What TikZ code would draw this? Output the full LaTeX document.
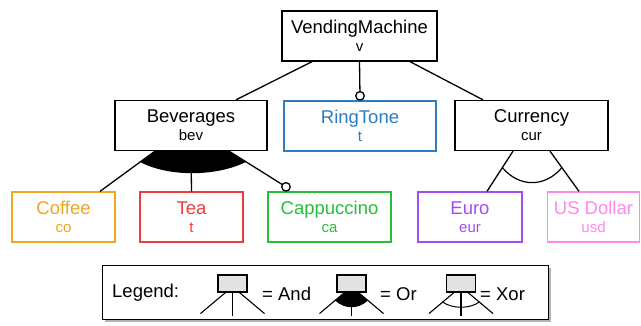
\documentclass[tikz,border=0pt]{standalone}
\usepackage{fontspec}
\setmainfont{Liberation Sans}
\usetikzlibrary{calc,shadows}

\definecolor{coffeecol}{RGB}{240,166,30}
\definecolor{teacol}{RGB}{238,60,60}
\definecolor{cappcol}{RGB}{40,190,60}
\definecolor{ringcol}{RGB}{45,125,190}
\definecolor{eurocol}{RGB}{165,75,245}
\definecolor{usdcol}{RGB}{255,136,238}
\definecolor{legfill}{RGB}{226,226,226}

\newcommand{\feat}[2]{#1\\[-1pt]{\fontsize{15}{15}\selectfont #2}}

\tikzset{
  feature/.style={draw, fill=white, line width=1.3pt, minimum height=50pt,
    inner sep=0pt, align=center, font=\fontsize{18.5}{19}\selectfont},
  opt/.style={circle, draw, fill=white, line width=1.3pt, inner sep=0pt, minimum size=8.5pt},
  edge/.style={line width=1.3pt},
  legbox/.style={draw, fill=legfill, line width=1.1pt, minimum width=29pt,
    minimum height=17pt, inner sep=0pt}
}

\begin{document}
\begin{tikzpicture}[x=1pt,y=-1pt]
    \useasboundingbox (0,0) rectangle (641,326);
    % features
    \node[feature, minimum width=155pt] (vm) at (359.5,36) {\feat{VendingMachine}{v}};
    \node[feature, minimum width=152pt] (bev) at (191,125.5) {\feat{Beverages}{bev}};
    \node[feature, minimum width=152pt, draw=ringcol, text=ringcol] (ring) at (360,126) {\feat{RingTone}{t}};
    \node[feature, minimum width=153pt] (cur) at (531.5,125.5) {\feat{Currency}{cur}};
    \node[feature, minimum width=103pt, draw=coffeecol, text=coffeecol] (coffee) at (63.5,217) {\feat{Coffee}{co}};
    \node[feature, minimum width=103pt, draw=teacol, text=teacol] (tea) at (191.5,217) {\feat{Tea}{t}};
    \node[feature, minimum width=123pt, draw=cappcol, text=cappcol] (capp) at (329.5,217) {\feat{Cappuccino}{ca}};
    \node[feature, minimum width=104pt, draw=eurocol, text=eurocol] (euro) at (470,217) {\feat{Euro}{eur}};
    \node[feature, minimum width=92pt, draw=usdcol, text=usdcol] (usd) at (593.5,217) {\feat{US Dollar}{usd}};

    % root edges
    \draw[edge] ([xshift=-47.5pt]vm.south) -- ([xshift=45pt]bev.north);
    \draw[edge] (vm.south) -- ([yshift=4.5pt]ring.north) node[opt] {};
    \draw[edge] ([xshift=50.5pt]vm.south) -- ([xshift=-48.5pt]cur.north);

    % or group
    \coordinate (bevl) at ([xshift=-36pt]bev.south);
    \coordinate (bevr) at ([xshift=38pt]bev.south);
    \coordinate (coffeetop) at ([xshift=36.5pt]coffee.north);
    \coordinate (capptop) at ([xshift=-43.5pt,yshift=4.5pt]capp.north);
    \fill (bevl) -- ($(bevl)!0.27!(coffeetop)$) coordinate (orl)
        .. controls ($(orl)+(28,15)$) and ($(bevr)!0.3!(capptop)+(-30,15)$) .. ($(bevr)!0.3!(capptop)$)
        -- (bevr) -- cycle;
    \draw[edge] (bevl) -- (coffeetop);
    \draw[edge] (bev.south) -- (tea.north);
    \draw[edge] (bevr) -- (capptop) node[opt] {};

    % xor group
    \coordinate (curl) at ([xshift=-18.5pt]cur.south);
    \coordinate (curr) at ([xshift=18.5pt]cur.south);
    \draw[edge] (curl) -- ([xshift=17pt]euro.north);
    \draw[edge] (curr) -- ([xshift=-14.5pt]usd.north);
    \draw[line width=1.2pt] ($(curl)!0.41!([xshift=17pt]euro.north)$) coordinate (xorl)
        .. controls ($(xorl)+(17,20)$) and ($(curr)!0.41!([xshift=-14.5pt]usd.north)+(-17,20)$)
        .. ($(curr)!0.41!([xshift=-14.5pt]usd.north)$);

    % legend
    \node[draw, fill=white, line width=0.8pt, minimum width=446pt, minimum height=54pt,
        drop shadow={shadow xshift=3pt, shadow yshift=-3pt, fill=gray, opacity=0.6}] (legend) at (325,292) {};
    \node[anchor=west, inner sep=0pt, font=\fontsize{18.5}{19}\selectfont] (legtitle) at (112,293) {Legend:};
    \foreach \n/\x in {lgand/232.5, lgor/351.5, lgxor/461} {
        \node[legbox] (\n) at (\x,283.5) {};
        \coordinate (\n-l) at ($(\n.south)+(-32,21)$);
        \coordinate (\n-r) at ($(\n.south)+(32,21)$);
    }
    \fill ([xshift=-7pt]lgor.south) -- ($([xshift=-7pt]lgor.south)!0.38!(lgor-l)$) coordinate (lgorp)
        .. controls ($(lgorp)+(10,9)$) and ($([xshift=7pt]lgor.south)!0.38!(lgor-r)+(-10,9)$)
        .. ($([xshift=7pt]lgor.south)!0.38!(lgor-r)$) -- ([xshift=7pt]lgor.south) -- cycle;
    \draw[line width=1pt] ($([xshift=-7pt]lgxor.south)!0.45!(lgxor-l)$) coordinate (lgxorp)
        .. controls ($(lgxorp)+(9,7)$) and ($([xshift=7pt]lgxor.south)!0.45!(lgxor-r)+(-9,7)$)
        .. ($([xshift=7pt]lgxor.south)!0.45!(lgxor-r)$);
    \foreach \n in {lgand, lgor, lgxor} {
        \draw[line width=1.1pt] ([xshift=-7pt]\n.south) -- (\n-l);
        \draw[line width=1.1pt] (\n.south) -- ++(0,23);
        \draw[line width=1.1pt] ([xshift=7pt]\n.south) -- (\n-r);
    }
    \node[anchor=west, inner sep=0pt, font=\fontsize{18.5}{19}\selectfont] (legand) at (262,294) {= And};
    \node[anchor=west, inner sep=0pt, font=\fontsize{18.5}{19}\selectfont] (legor) at (380,294) {= Or};
    \node[anchor=west, inner sep=0pt, font=\fontsize{18.5}{19}\selectfont] (legxor) at (480,294) {= Xor};
\end{tikzpicture}
\end{document}
